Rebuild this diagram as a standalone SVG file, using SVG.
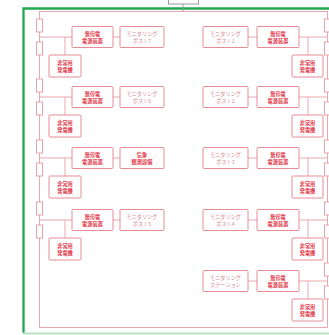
<svg xmlns="http://www.w3.org/2000/svg" width="329" height="335" viewBox="0 0 329 335">
<style>
.box{fill:#fff;stroke:#e68c97;stroke-width:1}
.t{font-family:"Noto Sans CJK JP","Noto Sans",sans-serif;font-size:5.2px;text-anchor:middle}
.r{fill:#e2384a;font-weight:bold}
.m{fill:#d88893}
.ln{fill:none;stroke:#e9a8b0;stroke-width:1}
.fuse{fill:#fff;stroke:#e3a3aa;stroke-width:1}
</style>
<rect x="0" y="0" width="329" height="335" fill="#fff"/>
<!-- frame -->
<path d="M23.5 333V8.5H330" fill="none" stroke="#22a84f" stroke-width="2.3"/>
<line x1="23" y1="333.5" x2="329" y2="333.5" stroke="#b5e4c0" stroke-width="2"/>
<g id="connectors">
<rect class="ln" x="39.5" y="11.5" width="288" height="316"/>
<line x1="183" y1="4" x2="183" y2="11.5" stroke="#9a9a9a" stroke-width="1"/>
<!-- left branches -->
<path class="ln" d="M39.5 37H72M65 37V55M113 37H120"/>
<path class="ln" d="M39.5 97H72M65 97V115M113 97H120"/>
<path class="ln" d="M39.5 158H72M65 158V176M113 158H120"/>
<path class="ln" d="M39.5 220H72M65 220V238M113 220H120"/>
<!-- right branches -->
<path class="ln" d="M299 37H327.5M308 37V55M248 37H257"/>
<path class="ln" d="M299 97H327.5M308 97V115M248 97H257"/>
<path class="ln" d="M299 158H327.5M308 158V176M248 158H257"/>
<path class="ln" d="M299 220H327.5M308 220V238M248 220H257"/>
<path class="ln" d="M299 281H327.5M308 281V299M248 281H257"/>
</g>
<g id="fuses">
<rect class="fuse" x="36.5" y="19" width="6" height="13"/>
<rect class="fuse" x="36.5" y="42" width="6" height="13"/>
<rect class="fuse" x="36.5" y="79" width="6" height="13"/>
<rect class="fuse" x="36.5" y="102" width="6" height="13"/>
<rect class="fuse" x="36.5" y="140" width="6" height="13"/>
<rect class="fuse" x="36.5" y="163" width="6" height="13"/>
<rect class="fuse" x="36.5" y="202" width="6" height="13"/>
<rect class="fuse" x="36.5" y="225" width="6" height="13"/>
<rect class="fuse" x="324.5" y="19" width="6" height="13"/>
<rect class="fuse" x="324.5" y="42" width="6" height="13"/>
<rect class="fuse" x="324.5" y="79" width="6" height="13"/>
<rect class="fuse" x="324.5" y="102" width="6" height="13"/>
<rect class="fuse" x="324.5" y="140" width="6" height="13"/>
<rect class="fuse" x="324.5" y="163" width="6" height="13"/>
<rect class="fuse" x="324.5" y="202" width="6" height="13"/>
<rect class="fuse" x="324.5" y="225" width="6" height="13"/>
<rect class="fuse" x="324.5" y="263" width="6" height="13"/>
<rect class="fuse" x="324.5" y="286" width="6" height="13"/>
</g>
<g id="top-box"><rect x="168.5" y="-10" width="30" height="14" fill="#fff" stroke="#9a9a9a" stroke-width="1"/></g>
<!-- left column -->
<g id="ups-l1"><rect class="box" x="72" y="26.5" width="41" height="21" rx="1"/><text class="t r" x="92.5" y="35.8">無停電</text><text class="t r" x="92.5" y="42.8">電源装置</text></g>
<g id="mp-7"><rect class="box" x="120" y="26.5" width="44" height="21" rx="1"/><text class="t m" x="142" y="35.8">モニタリング</text><text class="t m" x="142" y="42.8">ポスト7</text></g>
<g id="gen-l1"><rect class="box" x="49" y="55" width="32" height="22" rx="1"/><text class="t r" x="65" y="64.8">非常用</text><text class="t r" x="65" y="71.8">発電機</text></g>
<g id="ups-l2"><rect class="box" x="72" y="86.5" width="41" height="21" rx="1"/><text class="t r" x="92.5" y="95.8">無停電</text><text class="t r" x="92.5" y="102.8">電源装置</text></g>
<g id="mp-6"><rect class="box" x="120" y="86.5" width="44" height="21" rx="1"/><text class="t m" x="142" y="95.8">モニタリング</text><text class="t m" x="142" y="102.8">ポスト6</text></g>
<g id="gen-l2"><rect class="box" x="49" y="115" width="32" height="22" rx="1"/><text class="t r" x="65" y="124.8">非常用</text><text class="t r" x="65" y="131.8">発電機</text></g>
<g id="ups-l3"><rect class="box" x="72" y="147.5" width="41" height="21" rx="1"/><text class="t r" x="92.5" y="156.8">無停電</text><text class="t r" x="92.5" y="163.8">電源装置</text></g>
<g id="weather"><rect class="box" x="120" y="147.5" width="44" height="21" rx="1"/><text class="t r" x="142" y="156.8">気象</text><text class="t r" x="142" y="163.8">観測設備</text></g>
<g id="gen-l3"><rect class="box" x="49" y="176" width="32" height="22" rx="1"/><text class="t r" x="65" y="185.8">非常用</text><text class="t r" x="65" y="192.8">発電機</text></g>
<g id="ups-l4"><rect class="box" x="72" y="209.5" width="41" height="21" rx="1"/><text class="t r" x="92.5" y="218.8">無停電</text><text class="t r" x="92.5" y="225.8">電源装置</text></g>
<g id="mp-5"><rect class="box" x="120" y="209.5" width="44" height="21" rx="1"/><text class="t m" x="142" y="218.8">モニタリング</text><text class="t m" x="142" y="225.8">ポスト5</text></g>
<g id="gen-l4"><rect class="box" x="49" y="238" width="32" height="22" rx="1"/><text class="t r" x="65" y="247.8">非常用</text><text class="t r" x="65" y="254.8">発電機</text></g>
<!-- right column -->
<g id="mp-1"><rect class="box" x="203" y="26.5" width="45" height="21" rx="1"/><text class="t m" x="225.5" y="35.8">モニタリング</text><text class="t m" x="225.5" y="42.8">ポスト1</text></g>
<g id="ups-r1"><rect class="box" x="257" y="26.5" width="42" height="21" rx="1"/><text class="t r" x="278" y="35.8">無停電</text><text class="t r" x="278" y="42.8">電源装置</text></g>
<g id="gen-r1"><rect class="box" x="292" y="55" width="31" height="22" rx="1"/><text class="t r" x="307.5" y="64.8">非常用</text><text class="t r" x="307.5" y="71.8">発電機</text></g>
<g id="mp-2"><rect class="box" x="203" y="86.5" width="45" height="21" rx="1"/><text class="t m" x="225.5" y="95.8">モニタリング</text><text class="t m" x="225.5" y="102.8">ポスト2</text></g>
<g id="ups-r2"><rect class="box" x="257" y="86.5" width="42" height="21" rx="1"/><text class="t r" x="278" y="95.8">無停電</text><text class="t r" x="278" y="102.8">電源装置</text></g>
<g id="gen-r2"><rect class="box" x="292" y="115" width="31" height="22" rx="1"/><text class="t r" x="307.5" y="124.8">非常用</text><text class="t r" x="307.5" y="131.8">発電機</text></g>
<g id="mp-3"><rect class="box" x="203" y="147.5" width="45" height="21" rx="1"/><text class="t m" x="225.5" y="156.8">モニタリング</text><text class="t m" x="225.5" y="163.8">ポスト3</text></g>
<g id="ups-r3"><rect class="box" x="257" y="147.5" width="42" height="21" rx="1"/><text class="t r" x="278" y="156.8">無停電</text><text class="t r" x="278" y="163.8">電源装置</text></g>
<g id="gen-r3"><rect class="box" x="292" y="176" width="31" height="22" rx="1"/><text class="t r" x="307.5" y="185.8">非常用</text><text class="t r" x="307.5" y="192.8">発電機</text></g>
<g id="mp-4"><rect class="box" x="203" y="209.5" width="45" height="21" rx="1"/><text class="t m" x="225.5" y="218.8">モニタリング</text><text class="t m" x="225.5" y="225.8">ポスト4</text></g>
<g id="ups-r4"><rect class="box" x="257" y="209.5" width="42" height="21" rx="1"/><text class="t r" x="278" y="218.8">無停電</text><text class="t r" x="278" y="225.8">電源装置</text></g>
<g id="gen-r4"><rect class="box" x="292" y="238" width="31" height="22" rx="1"/><text class="t r" x="307.5" y="247.8">非常用</text><text class="t r" x="307.5" y="254.8">発電機</text></g>
<g id="ms"><rect class="box" x="203" y="270.5" width="45" height="21" rx="1"/><text class="t m" x="225.5" y="279.8">モニタリング</text><text class="t m" x="225.5" y="286.8">ステーション</text></g>
<g id="ups-r5"><rect class="box" x="257" y="270.5" width="42" height="21" rx="1"/><text class="t r" x="278" y="279.8">無停電</text><text class="t r" x="278" y="286.8">電源装置</text></g>
<g id="gen-r5"><rect class="box" x="292" y="299" width="31" height="22" rx="1"/><text class="t r" x="307.5" y="308.8">非常用</text><text class="t r" x="307.5" y="315.8">発電機</text></g>
</svg>
